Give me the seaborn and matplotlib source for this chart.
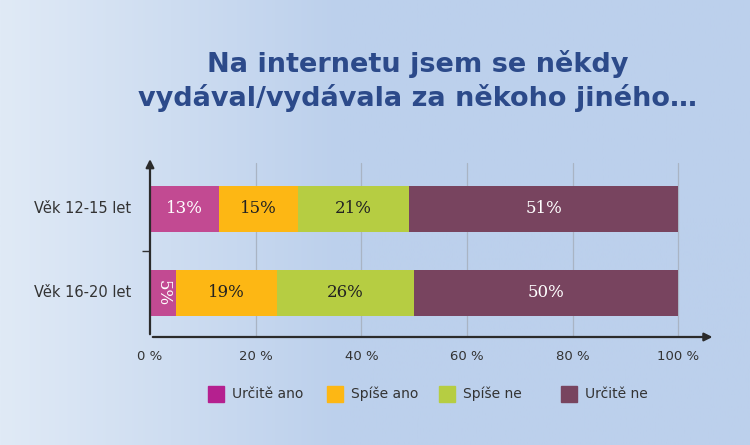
import numpy as np
import pandas as pd
import matplotlib
matplotlib.use("Agg")
import matplotlib.pyplot as plt
import matplotlib.transforms as mtransforms
import seaborn as sns

# data
groups = ["Věk 12-15 let", "Věk 16-20 let"]
answers = ["Určitě ano", "Spíše ano", "Spíše ne", "Určitě ne"]
values_12_15 = [13, 15, 21, 51]
values_16_20 = [5, 19, 26, 50]
xtick_labels = ["0 %", "20 %", "40 %", "60 %", "80 %", "100 %"]
title = "Na internetu jsem se někdy\nvydával/vydávala za někoho jiného…"

bar_colors = ["#C24A92", "#FDB714", "#B6CD42", "#78445F"]
legend_colors = ["#B5208F", "#FDB714", "#B6CD42", "#78445F"]

sns.set_theme(style="white")
plt.rcParams['font.family'] = ['DejaVu Sans']

df = pd.DataFrame([values_12_15, values_16_20], index=groups, columns=answers)

fig = plt.figure(figsize=(7.5, 4.45), dpi=100)

# background gradient
bg = fig.add_axes([0, 0, 1, 1])
grad = np.linspace(0, 1, 256)
grad = np.clip(grad * 2.2, 0, 1)
bg.imshow(grad[np.newaxis, :], aspect="auto", extent=[0, 1, 0, 1],
          cmap=matplotlib.colors.LinearSegmentedColormap.from_list("bg", ["#E0EAF6", "#BCD0EC"]))
bg.set_axis_off()

ax = fig.add_axes([150 / 750, (445 - 337) / 445, (710 - 150) / 750, (337 - 158) / 445])
ax.set_facecolor("none")

# stacked bars via seaborn, drawing cumulative totals from the back
cum = df.cumsum(axis=1)
for i in range(len(answers) - 1, -1, -1):
    col = answers[i]
    sns.barplot(x=cum[col].values, y=groups, orient="h", color=bar_colors[i],
                width=0.55, ax=ax, saturation=1, linewidth=0, zorder=3)

y_top, y_bot = -0.607, 1.524
ax.set_xlim(0, 106)
ax.set_ylim(y_bot, y_top)

# labels
for gi, g in enumerate(groups):
    left = 0
    for i, col in enumerate(answers):
        v = df.loc[g, col]
        cx = left + v / 2
        txt_color = "white" if i in (0, 3) else "#222222"
        rot = 270 if v < 8 else 0
        ax.text(cx, gi, f"{v}%", ha="center", va="center", color=txt_color,
                fontsize=12, family="DejaVu Serif", rotation=rot, zorder=5)
        left += v

for x in [20, 40, 60, 80, 100]:
    ax.plot([x, x], [-0.55, y_bot], color="#A9B4C4", lw=0.9, zorder=1)

ax.set_xticks([0, 20, 40, 60, 80, 100])
ax.set_xticklabels(xtick_labels, fontsize=9.5, color="#333333")
shift = mtransforms.ScaledTranslation(4 / 100, 0, fig.dpi_scale_trans)
for lbl in ax.get_xticklabels():
    lbl.set_transform(lbl.get_transform() + shift)
ax.set_yticks([0.5])
ax.set_yticklabels([])
ax.tick_params(axis="y", left=True, length=6, width=1, color="#333333", pad=2)
ax.tick_params(axis="x", length=0, pad=9)
for gi, g in enumerate(groups):
    ax.text(-3.6, gi, g, ha="right", va="center", fontsize=10.5, color="#333333")

for s in ["top", "right", "left", "bottom"]:
    ax.spines[s].set_visible(False)
ax.set_xlabel("")
ax.set_ylabel("")

# axes arrows
ax.annotate("", xy=(107, y_bot), xytext=(0, y_bot),
            arrowprops=dict(arrowstyle="-|>", color="#2B2B2B", lw=1.6, mutation_scale=12),
            annotation_clip=False)
ax.annotate("", xy=(0, y_top - 0.02), xytext=(0, y_bot),
            arrowprops=dict(arrowstyle="-|>", color="#2B2B2B", lw=1.6, mutation_scale=12),
            annotation_clip=False)

fig.text(418 / 750, 1 - 81 / 445, title, ha="center", va="center",
         fontsize=19.5, fontweight="bold", color="#2C4A8A", linespacing=1.3)

# legend
for i, (name, c) in enumerate(zip(answers, legend_colors)):
    x0 = [208, 327, 439, 561][i]
    fig.patches.append(matplotlib.patches.Rectangle((x0 / 750, 1 - 402 / 445), 16 / 750, 16 / 445,
                                                    transform=fig.transFigure, color=c))
    fig.text((x0 + 24) / 750, 1 - 394 / 445, name, ha="left", va="center", fontsize=10, color="#333333")

fig.savefig("out.png", dpi=100)
